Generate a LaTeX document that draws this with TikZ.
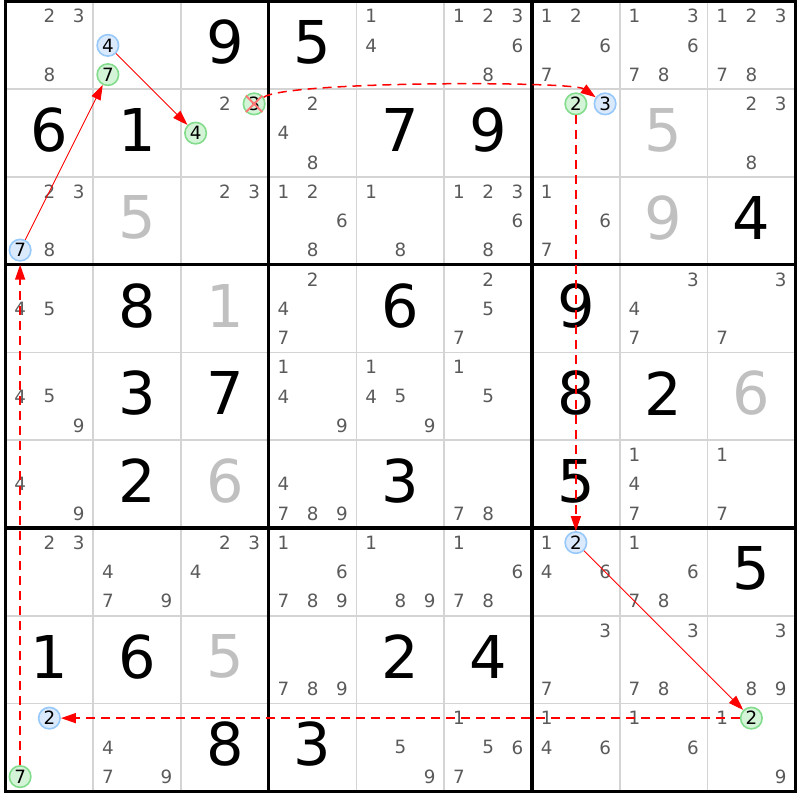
\documentclass[tikz,border=0pt]{standalone}
\usepackage{fontspec}
\setmainfont{DejaVu Sans}
\usepackage{xcolor}
\usepackage{tikz}
\usetikzlibrary{arrows.meta}
\usetikzlibrary{positioning}

\definecolor{candgray}{RGB}{90,90,90}
\definecolor{solvedgray}{RGB}{192,192,192}
\definecolor{gridgray}{RGB}{212,212,212}
\definecolor{ringblue}{RGB}{150,200,250}
\definecolor{fillblue}{RGB}{218,234,252}
\definecolor{ringgreen}{RGB}{130,220,140}
\definecolor{fillgreen}{RGB}{212,244,216}
\definecolor{crossred}{RGB}{255,120,120}

% one small candidate digit: style, name, row, column, digit
\newcommand{\pip}[5]{%
  \pgfmathtruncatemacro{\pk}{mod(#5-1,3)}%
  \pgfmathtruncatemacro{\pj}{div(#5-1,3)}%
  \node [#1] (#2) at ({#4-1+(\pk+0.5)/3}, {1-#3-(\pj+0.5)/3}) {#5};}
\newcommand{\cands}[3]{\foreach \n in {#3} {\pip{cand}{r#1c#2n\n}{#1}{#2}{\n}}}
\newcommand{\givenAt}[3]{\node [given] (r#1c#2) at ({#2-0.5}, {0.535-#1}) {#3};}
\newcommand{\solvedAt}[3]{\node [solved] (r#1c#2) at ({#2-0.5}, {0.535-#1}) {#3};}

\begin{document}
\begin{tikzpicture}[x=87.75pt, y=87.75pt,
  given/.style={font=\fontsize{59}{59}\selectfont, inner sep=0pt},
  solved/.style={given, text=solvedgray},
  cand/.style={font=\fontsize{18.3}{18.3}\selectfont, text=candgray, inner sep=0pt},
  ring/.style={circle, inner sep=0pt, minimum size=21.5pt, line width=1.6pt, font=\fontsize{18.3}{18.3}\selectfont},
  bluecand/.style={ring, draw=ringblue, fill=fillblue},
  greencand/.style={ring, draw=ringgreen, fill=fillgreen},
  thinrule/.style={draw=gridgray, line width=1.7pt},
  boxrule/.style={draw=black, line width=3.2pt},
  link/.style={-{Triangle[length=15pt,width=10pt]}, draw=red, line width=0.9pt},
  weaklink/.style={link, line width=1.5pt, dash pattern=on 9pt off 6pt},
  cross/.style={draw=crossred, line width=1.8pt}]
\useasboundingbox (-5.5pt,1.5pt) rectangle (794.5pt,-798.5pt);

% grid
\foreach \i in {1,2,4,5,7,8} {
  \draw [thinrule] (\i,0) -- (\i,-9);
  \draw [thinrule] (0,-\i) -- (9,-\i);
}
\foreach \i in {3,6} {
  \draw [boxrule] (\i,0) -- (\i,-9);
  \draw [boxrule] (0,-\i) -- (9,-\i);
}
\draw [boxrule, line cap=rect] (0,0) rectangle (9,-9);

% givens
\givenAt{1}{3}{9} \givenAt{1}{4}{5}
\givenAt{2}{1}{6} \givenAt{2}{2}{1} \givenAt{2}{5}{7} \givenAt{2}{6}{9}
\givenAt{3}{9}{4}
\givenAt{4}{2}{8} \givenAt{4}{5}{6} \givenAt{4}{7}{9}
\givenAt{5}{2}{3} \givenAt{5}{3}{7} \givenAt{5}{7}{8} \givenAt{5}{8}{2}
\givenAt{6}{2}{2} \givenAt{6}{5}{3} \givenAt{6}{7}{5}
\givenAt{7}{9}{5}
\givenAt{8}{1}{1} \givenAt{8}{2}{6} \givenAt{8}{5}{2} \givenAt{8}{6}{4}
\givenAt{9}{3}{8} \givenAt{9}{4}{3}

% solved cells
\solvedAt{2}{8}{5} \solvedAt{3}{2}{5} \solvedAt{3}{8}{9}
\solvedAt{4}{3}{1} \solvedAt{5}{9}{6} \solvedAt{6}{3}{6}
\solvedAt{8}{3}{5}

% candidates
\cands{1}{1}{2,3,8} \cands{1}{5}{1,4} \cands{1}{6}{1,2,3,6,8}
\cands{1}{7}{1,2,6,7} \cands{1}{8}{1,3,6,7,8} \cands{1}{9}{1,2,3,7,8}
\cands{2}{3}{2} \cands{2}{4}{2,4,8} \cands{2}{9}{2,3,8}
\cands{3}{1}{2,3,8} \cands{3}{3}{2,3} \cands{3}{4}{1,2,6,8}
\cands{3}{5}{1,8} \cands{3}{6}{1,2,3,6,8} \cands{3}{7}{1,6,7}
\cands{4}{1}{4,5} \cands{4}{4}{2,4,7} \cands{4}{6}{2,5,7}
\cands{4}{8}{3,4,7} \cands{4}{9}{3,7}
\cands{5}{1}{4,5,9} \cands{5}{4}{1,4,9} \cands{5}{5}{1,4,5,9} \cands{5}{6}{1,5}
\cands{6}{1}{4,9} \cands{6}{4}{4,7,8,9} \cands{6}{6}{7,8}
\cands{6}{8}{1,4,7} \cands{6}{9}{1,7}
\cands{7}{1}{2,3} \cands{7}{2}{4,7,9} \cands{7}{3}{2,3,4}
\cands{7}{4}{1,6,7,8,9} \cands{7}{5}{1,8,9} \cands{7}{6}{1,6,7,8}
\cands{7}{7}{1,4,6} \cands{7}{8}{1,6,7,8}
\cands{8}{4}{7,8,9} \cands{8}{7}{3,7} \cands{8}{8}{3,7,8} \cands{8}{9}{3,8,9}
\cands{9}{2}{4,7,9} \cands{9}{5}{5,9} \cands{9}{6}{1,5,6,7}
\cands{9}{7}{1,4,6} \cands{9}{8}{1,6} \cands{9}{9}{1,9}

% chain candidates
\pip{bluecand}{a7}{3}{1}{7}
\pip{greencand}{b7}{1}{2}{7}
\pip{bluecand}{b4}{1}{2}{4}
\pip{greencand}{c4}{2}{3}{4}
\pip{greencand}{c3}{2}{3}{3}
\pip{bluecand}{d3}{2}{7}{3}
\pip{greencand}{d2}{2}{7}{2}
\pip{bluecand}{e2}{7}{7}{2}
\pip{greencand}{f2}{9}{9}{2}
\pip{bluecand}{g2}{9}{1}{2}
\pip{greencand}{g7}{9}{1}{7}
\draw [cross] (c3.north west) -- (c3.south east) (c3.north east) -- (c3.south west);

% links
\draw [link] (a7) -- (b7);
\draw [link] (b4) -- (c4);
\draw [weaklink] (c3) to [out=35, in=145, looseness=0.22] (d3);
\draw [weaklink] (d2) -- (e2);
\draw [link] (e2) -- (f2);
\draw [weaklink] (f2) -- (g2);
\draw [weaklink, shorten >=3pt] (g7) -- (a7);
\end{tikzpicture}
\end{document}
